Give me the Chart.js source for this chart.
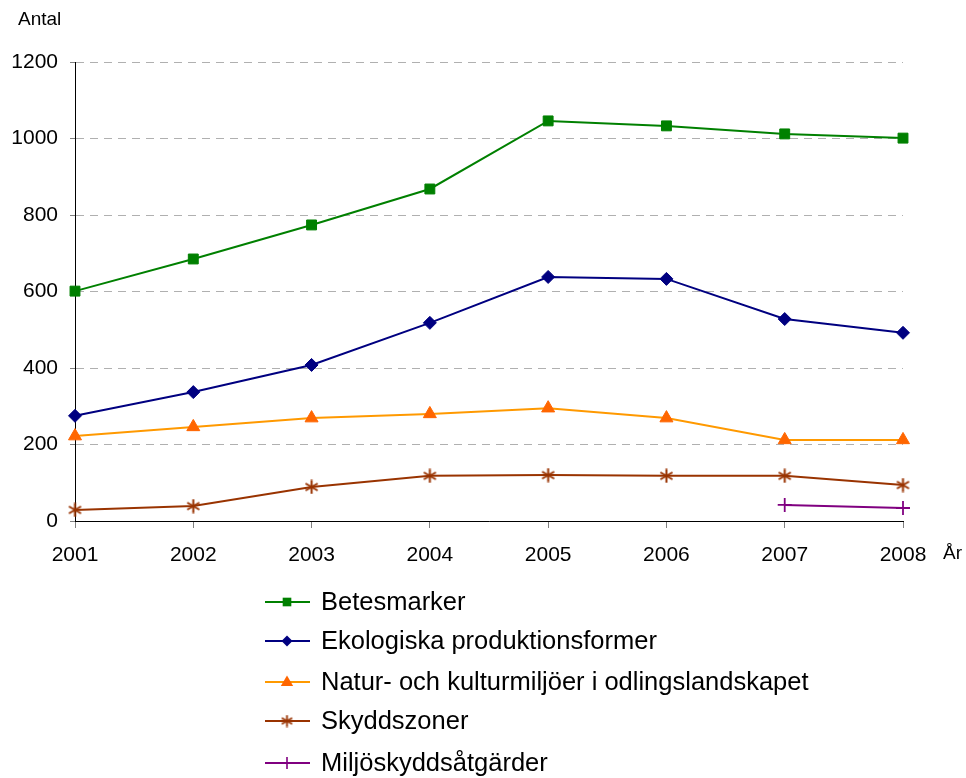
<!DOCTYPE html>
<html><head><meta charset="utf-8">
<script src="https://cdn.jsdelivr.net/npm/chart.js@4/dist/chart.umd.min.js"></script>
<style>html,body{margin:0;padding:0;background:#fff;}#wrap{width:966px;height:778px;position:relative;}</style>
</head><body><div id="wrap"><canvas id="c" width="966" height="778"></canvas></div>
<script>
const years = ['2001','2002','2003','2004','2005','2006','2007','2008'];
const betesmarker = [601, 685, 774, 868, 1046, 1033, 1012, 1001];
const ekologiska = [275, 337, 408, 518, 638, 633, 528, 492];
const naturKultur = [222, 246, 269, 280, 295, 269, 212, 212];
const skyddszoner = [29, 39, 89, 118, 120, 118, 118, 94];
const miljoskydd = [null, null, null, null, null, null, 42, 34];
const seriesNames = ['Betesmarker','Ekologiska produktionsformer','Natur- och kulturmiljöer i odlingslandskapet','Skyddszoner','Miljöskyddsåtgärder'];
const yTicks = [0, 200, 400, 600, 800, 1000, 1200];
const yTitle = 'Antal';
const xTitle = 'År';

const FONT = 'Arial, "Liberation Sans", sans-serif';

function makeAsterisk(size, color, lw) {
  const c = document.createElement('canvas');
  c.width = size; c.height = size;
  const g = c.getContext('2d');
  g.strokeStyle = color; g.lineWidth = lw; g.lineCap = 'butt';
  const m = size / 2, r = size / 2 - 0.5;
  g.beginPath();
  g.moveTo(m, m - r); g.lineTo(m, m + r);
  const dx = r * Math.cos(Math.PI / 6), dy = r * Math.sin(Math.PI / 6);
  g.moveTo(m - dx, m - dy); g.lineTo(m + dx, m + dy);
  g.moveTo(m - dx, m + dy); g.lineTo(m + dx, m - dy);
  g.stroke();
  return c;
}
const starBig = makeAsterisk(15, '#993300', 2);
const starSmall = makeAsterisk(13, '#993300', 1.8);

const dsMeta = [
  {data: betesmarker, line: '#008000', fill: '#008000', style: 'rect', radius: 7, lstyle: 'rect', lradius: 6},
  {data: ekologiska, line: '#000080', fill: '#000080', style: 'rectRot', radius: 6.5, lstyle: 'rectRot', lradius: 5.5},
  {data: naturKultur, line: '#FF9900', fill: '#FF6600', style: 'triangle', radius: 7.5, lstyle: 'triangle', lradius: 6.5},
  {data: skyddszoner, line: '#993300', fill: '#993300', style: starBig, radius: 7, lstyle: 'star', lradius: 6},
  {data: miljoskydd, line: '#800080', fill: '#800080', style: 'cross', radius: 7, lstyle: 'cross', lradius: 6}
];

const datasets = dsMeta.map((m, i) => ({
  label: seriesNames[i],
  data: m.data,
  borderColor: m.line,
  borderWidth: 2,
  pointStyle: m.style,
  pointRadius: m.radius,
  pointBackgroundColor: m.fill,
  pointBorderColor: m.fill,
  pointBorderWidth: (m.style === 'cross') ? 1.8 : 1,
  tension: 0,
  spanGaps: false
}));

function drawMarker(ctx, style, x, y, r, color) {
  ctx.save();
  ctx.fillStyle = color; ctx.strokeStyle = color; ctx.lineWidth = 1.6;
  ctx.beginPath();
  if (style === 'rect') {
    const s = r * 0.72;
    ctx.rect(x - s, y - s, 2 * s, 2 * s); ctx.fill();
  } else if (style === 'rectRot') {
    ctx.moveTo(x, y - r); ctx.lineTo(x + r, y); ctx.lineTo(x, y + r); ctx.lineTo(x - r, y); ctx.closePath(); ctx.fill();
  } else if (style === 'triangle') {
    ctx.moveTo(x, y - r); ctx.lineTo(x + r * 0.95, y + r * 0.6); ctx.lineTo(x - r * 0.95, y + r * 0.6); ctx.closePath(); ctx.fill();
  } else if (style === 'star') {
    ctx.drawImage(starSmall, x - starSmall.width / 2, y - starSmall.height / 2);
  } else if (style === 'cross') {
    ctx.moveTo(x, y - r); ctx.lineTo(x, y + r); ctx.moveTo(x - r, y); ctx.lineTo(x + r, y); ctx.stroke();
  }
  ctx.restore();
}

const extrasPlugin = {
  id: 'extras',
  afterDraw(chart) {
    const ctx = chart.ctx;
    ctx.save();
    ctx.fillStyle = '#000';
    ctx.textBaseline = 'middle';
    ctx.textAlign = 'left';
    ctx.font = '19px ' + FONT;
    ctx.fillText(yTitle, 18, 20);
    ctx.fillText(xTitle, 943, 554);
    // legend
    const rows = [602, 641, 682, 721, 763];
    ctx.font = '25.5px ' + FONT;
    dsMeta.forEach((m, i) => {
      const y = rows[i];
      ctx.strokeStyle = m.line; ctx.lineWidth = 2;
      ctx.beginPath(); ctx.moveTo(265, y); ctx.lineTo(310, y); ctx.stroke();
      drawMarker(ctx, m.lstyle, 287, y, m.lradius, m.fill);
      ctx.fillStyle = '#000';
      ctx.fillText(seriesNames[i], 321, y + 1);
    });
    ctx.restore();
  }
};

new Chart(document.getElementById('c'), {
  type: 'line',
  data: {labels: years, datasets},
  plugins: [extrasPlugin],
  options: {
    responsive: false,
    animation: false,
    devicePixelRatio: 1,
    layout: {padding: {left: 0, top: 62, right: 63, bottom: 212}},
    plugins: {legend: {display: false}, tooltip: {enabled: false}, title: {display: false}},
    scales: {
      x: {
        type: 'category',
        offset: false,
        grid: {drawOnChartArea: false, drawTicks: true, tickLength: 7, color: '#808080'},
        border: {display: true, color: '#000', width: 1},
        ticks: {color: '#000', font: {family: FONT, size: 21}, padding: 15, maxRotation: 0, autoSkip: false},
        afterFit: s => { s.height = 45; }
      },
      y: {
        min: 0, max: 1200,
        afterBuildTicks: s => { s.ticks = yTicks.map(v => ({value: v})); },
        grid: {color: '#b0b0b0', lineWidth: 1, tickLength: 5, tickColor: '#808080', tickBorderDash: []},
        border: {display: true, color: '#000', width: 1, dash: [8, 6]},
        ticks: {color: '#000', font: {family: FONT, size: 21}, padding: 12, callback: v => String(v)},
        afterFit: s => { s.width = 75; }
      }
    }
  }
});
</script>
</body></html>
